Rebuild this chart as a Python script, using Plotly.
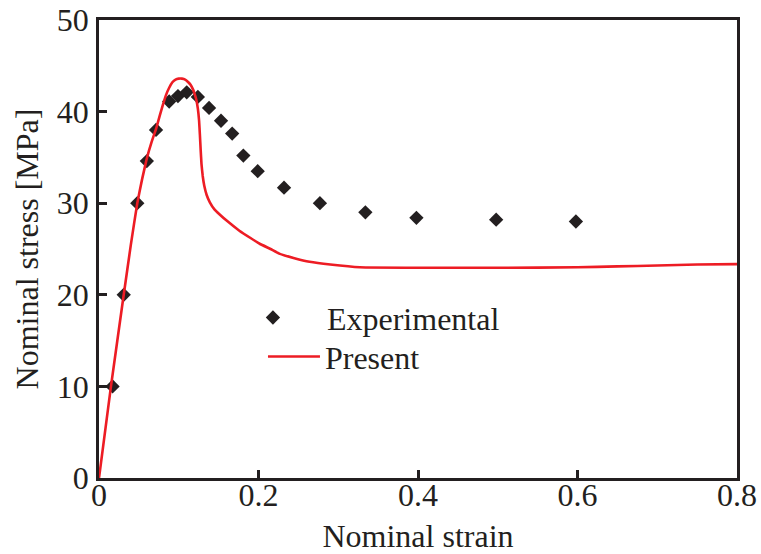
import plotly.graph_objects as go

# Experimental nominal stress-strain points
exp_strain = [0.017, 0.031, 0.048, 0.060, 0.0715, 0.088, 0.099, 0.110, 0.124,
              0.138, 0.153, 0.167, 0.181, 0.199, 0.232, 0.277, 0.334, 0.398,
              0.498, 0.598]
exp_stress = [10.0, 20.0, 30.0, 34.6, 38.0, 41.1, 41.7, 42.1, 41.6,
              40.4, 39.0, 37.6, 35.2, 33.5, 31.7, 30.0, 29.0, 28.4,
              28.2, 28.0]

# Model prediction ("Present")
model_strain = [0.0, 0.015, 0.031, 0.040, 0.048, 0.054, 0.060, 0.066, 0.0715,
                0.076, 0.080, 0.084, 0.088, 0.092, 0.096, 0.100, 0.104,
                0.108, 0.112, 0.115, 0.118, 0.120, 0.122, 0.124, 0.1255,
                0.1265, 0.1275, 0.1285, 0.1300, 0.1320, 0.1350, 0.1390,
                0.1450, 0.151, 0.160, 0.176, 0.190, 0.201, 0.215, 0.226,
                0.245, 0.264, 0.290, 0.327, 0.40, 0.50, 0.60, 0.65, 0.70,
                0.75, 0.80]
model_stress = [0.0, 10.0, 20.0, 25.5, 30.0, 32.6, 34.9, 36.7, 38.1,
                39.5, 40.7, 41.8, 42.6, 43.2, 43.5, 43.6, 43.6,
                43.5, 43.2, 42.9, 42.4, 41.9, 41.3, 40.3, 39.0,
                37.5, 35.8, 34.3, 33.0, 31.9, 30.9, 30.1,
                29.3, 28.8, 28.1, 27.0, 26.2, 25.6, 25.0, 24.5,
                24.0, 23.6, 23.3, 23.0, 22.95, 22.95, 23.0, 23.1, 23.2,
                23.3, 23.35]

x_ticks = [0, 0.2, 0.4, 0.6, 0.8]
x_tick_text = ["0", "0.2", "0.4", "0.6", "0.8"]
y_ticks = [0, 10, 20, 30, 40, 50]

INK = "#231f20"
RED = "#ed1c24"
FONT = "Liberation Serif, Times New Roman, serif"
FS = 32

fig = go.Figure()
fig.add_trace(go.Scatter(
    x=exp_strain, y=exp_stress, mode="markers", name="Experimental",
    marker=dict(symbol="diamond", size=11, color=INK),
    legend="legend",
))
fig.add_trace(go.Scatter(
    x=model_strain, y=model_stress, mode="lines", name="Present",
    line=dict(color=RED, width=2.6, shape="spline", smoothing=0.3),
    legend="legend2",
))

axis_common = dict(
    showline=True, linecolor=INK, linewidth=2.5, mirror=True,
    ticks="inside", ticklen=8, tickwidth=2.5, tickcolor=INK,
    showgrid=False, zeroline=False, automargin=False,
    tickfont=dict(family=FONT, size=FS, color=INK),
)

legend_common = dict(
    xanchor="left", yanchor="middle",
    bgcolor="rgba(0,0,0,0)", borderwidth=0,
    font=dict(family=FONT, size=FS, color=INK),
)

fig.update_layout(
    width=761, height=554,
    margin=dict(l=99, r=24, t=20, b=76),
    paper_bgcolor="white", plot_bgcolor="white",
    font=dict(family=FONT, size=FS, color=INK),
    xaxis=dict(range=[0, 0.8], tickvals=x_ticks, ticktext=x_tick_text,
               title=dict(text="Nominal strain", font=dict(family=FONT, size=FS, color=INK), standoff=16),
               ticklabelstandoff=-13, **axis_common),
    yaxis=dict(range=[0, 50], tickvals=y_ticks,
               title=dict(text="Nominal stress [MPa]", font=dict(family=FONT, size=FS, color=INK), standoff=9),
               ticklabelstandoff=1, **axis_common),
    legend=dict(x=0.188, y=0.35, itemwidth=98, **legend_common),
    legend2=dict(x=0.257, y=0.265, itemwidth=52, **legend_common),
    showlegend=True,
)

fig.write_html("out.html")
